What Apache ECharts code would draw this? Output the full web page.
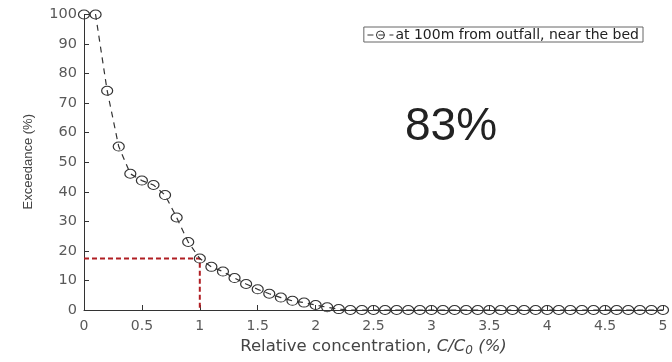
<!DOCTYPE html>
<html>
<head>
<meta charset="utf-8">
<script src="https://cdn.jsdelivr.net/npm/echarts@6/dist/echarts.min.js"></script>
<style>
  html, body { margin: 0; padding: 0; background: #fff; }
  #chart { width: 672px; height: 362px; }
</style>
</head>
<body>
<div id="chart"></div>
<script>
// Relative concentration C/C0 (%) sampled every 0.1
const concentration = [
  0.0, 0.1, 0.2, 0.3, 0.4, 0.5, 0.6, 0.7, 0.8, 0.9,
  1.0, 1.1, 1.2, 1.3, 1.4, 1.5, 1.6, 1.7, 1.8, 1.9,
  2.0, 2.1, 2.2, 2.3, 2.4, 2.5, 2.6, 2.7, 2.8, 2.9,
  3.0, 3.1, 3.2, 3.3, 3.4, 3.5, 3.6, 3.7, 3.8, 3.9,
  4.0, 4.1, 4.2, 4.3, 4.4, 4.5, 4.6, 4.7, 4.8, 4.9, 5.0
];
// Exceedance (%) at 100 m from the outfall, near the bed
const exceedance = [
  100, 100, 74.2, 55.3, 46.1, 43.8, 42.3, 38.9, 31.3, 23.0,
  17.4, 14.6, 13.0, 10.8, 8.8, 7.0, 5.5, 4.2, 3.1, 2.5,
  1.7, 0.9, 0.3, 0, 0, 0, 0, 0, 0, 0,
  0, 0, 0, 0, 0, 0, 0, 0, 0, 0,
  0, 0, 0, 0, 0, 0, 0, 0, 0, 0, 0
];
// Guide marking the exceedance at C/C0 = 1 %
const guideX = [0, 1, 1];
const guideY = [17.4, 17.4, 0];

const seriesName = 'at 100m from outfall, near the bed';
const annotation = '83%';

const curve = concentration.map((c, i) => [c, exceedance[i]]);
const guide = guideX.map((g, i) => [g, guideY[i]]);

const chart = echarts.init(document.getElementById('chart'), null, { renderer: 'canvas' });
const sans = 'DejaVu Sans, Verdana, sans-serif';
const helv = 'Liberation Sans, Arial, Helvetica, sans-serif';
const ink = '#333';

chart.setOption({
  animation: false,
  backgroundColor: '#fff',
  grid: { left: 84, right: 9, top: 14.5, bottom: 43.5 },
  legend: {
    right: 29,
    top: 27,
    padding: [1, 4, 0, 3],
    itemWidth: 26,
    itemHeight: 10,
    itemGap: 2,
    borderColor: '#666',
    borderWidth: 1,
    backgroundColor: '#fff',
    itemStyle: { color: 'rgba(255,255,255,0)', borderColor: ink, borderWidth: 1 },
    lineStyle: { color: ink, width: 1.2, type: [6, 5] },
    textStyle: { fontFamily: sans, fontSize: 14, lineHeight: 12, color: '#222', padding: [0, 0, 0, -3] },
    data: [seriesName]
  },
  xAxis: {
    type: 'value',
    min: 0, max: 5, interval: 0.5,
    axisLine: { lineStyle: { color: ink, width: 1 } },
    axisTick: { inside: true, length: 5, lineStyle: { color: ink } },
    splitLine: { show: false },
    axisLabel: { fontFamily: sans, fontSize: 14, color: '#595959', margin: 9 },
    name: '{n|Relative concentration, }{i|C/C}{s|0}{i| (%)}',
    nameLocation: 'middle',
    nameGap: 26,
    nameTextStyle: {
      rich: {
        n: { fontFamily: sans, fontSize: 16.5, color: '#444' },
        i: { fontFamily: sans, fontSize: 16.5, color: '#444', fontStyle: 'italic' },
        s: { fontFamily: sans, fontSize: 12, color: '#444', fontStyle: 'italic', padding: [9, 0, 0, 0] }
      }
    }
  },
  yAxis: {
    type: 'value',
    min: 0, max: 100, interval: 10,
    axisLine: { show: true, lineStyle: { color: ink, width: 1 } },
    axisTick: { show: true, inside: true, length: 5, lineStyle: { color: ink } },
    splitLine: { show: false },
    axisLabel: { fontFamily: sans, fontSize: 14.5, color: '#595959', margin: 7 }
  },
  graphic: [
    {
      type: 'text',
      left: 22,
      top: 114,
      rotation: Math.PI / 2,
      style: {
        text: 'Exceedance (%)',
        fontFamily: helv,
        fontSize: 13,
        fill: '#444',
        align: 'center',
        verticalAlign: 'middle'
      }
    },
    {
      type: 'text',
      left: 405,
      top: 104,
      style: {
        text: annotation,
        fontFamily: helv,
        fontSize: 46,
        fill: '#222'
      }
    }
  ],
  series: [
    {
      name: 'guide',
      type: 'line',
      data: guide,
      symbol: 'none',
      silent: true,
      lineStyle: { color: '#b01e23', width: 2, type: [5, 3] },
      z: 1
    },
    {
      name: seriesName,
      type: 'line',
      data: curve,
      symbol: 'circle',
      symbolSize: [11, 9],
      itemStyle: { color: 'rgba(255,255,255,0)', borderColor: ink, borderWidth: 1.1 },
      lineStyle: { color: ink, width: 1.2, type: [6, 5] },
      z: 2
    }
  ]
});
</script>
</body>
</html>
